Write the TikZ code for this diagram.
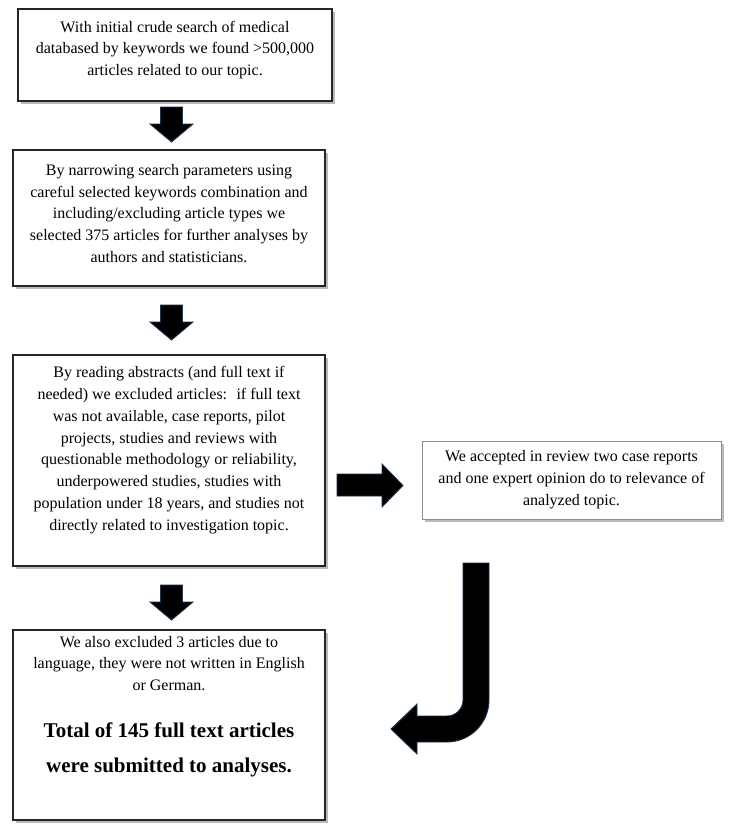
\documentclass[tikz,border=0pt]{standalone}
\usepackage{fontspec}
\setmainfont{Liberation Serif}
\begin{document}
\begin{tikzpicture}[x=1pt,y=-1pt]
\definecolor{arredge}{HTML}{1C3550}
\tikzset{
  frame/.style={draw=black!85, line width=1.3pt, fill=white, inner sep=0pt},
  shadowbox/.style={fill=gray!55, draw=none},
  txt/.style={inner sep=0pt, align=center, font=\fontsize{16}{21.8}\selectfont},
  bigtxt/.style={inner sep=0pt, align=center, font=\fontsize{21}{35}\selectfont\bfseries},
  blockarr/.style={fill=black, draw=arredge, line width=0.9pt, line join=miter},
  downarr/.pic={\path[blockarr] (-11,0) -- (11,0) -- (11,17) -- (21.5,17) -- (0,35) -- (-21.5,17) -- (-11,17) -- cycle;}
}
\useasboundingbox (0,0) rectangle (731,836);
\fill[white] (0,0) rectangle (731,836);

% shadows
\fill[shadowbox] (21,12) rectangle (335,104);
\fill[shadowbox] (16,153) rectangle (328,289);
\fill[shadowbox] (16,358) rectangle (328,569);
\fill[shadowbox] (16,633) rectangle (328,823);
\fill[shadowbox] (425,444) rectangle (724,522);

% boxes
\node[frame, minimum width=314pt, minimum height=92pt] (b1) at (175,55) {};
\node[frame, minimum width=312pt, minimum height=136pt] (b2) at (169,218) {};
\node[frame, minimum width=312pt, minimum height=211pt] (b3) at (169,460.5) {};
\node[frame, minimum width=312pt, minimum height=190pt] (b4) at (169,725) {};
\node[frame, draw=black!45, line width=1pt, minimum width=299pt, minimum height=78pt] (b5) at (571.5,480) {};

% texts
\node[txt] (t1) at (175,50) {With initial crude search of medical\\databased by keywords we found >500,000\\articles related to our topic.};
\node[txt] (t2) at (169,213.5) {By narrowing search parameters using\\careful selected keywords combination and\\including/excluding article types we\\selected 375 articles for further analyses by\\authors and statisticians.};
\node[txt] (t3) at (169,450) {By reading abstracts (and full text if\\needed) we excluded articles: \ if full text\\was not available, case reports, pilot\\projects, studies and reviews with\\questionable methodology or reliability,\\underpowered studies, studies with\\population under 18 years, and studies not\\directly related to investigation topic.};
\node[txt] (t4) at (169,663.5) {We also excluded 3 articles due to\\language, they were not written in English\\or German.};
\node[bigtxt] (t4b) at (169,749.5) {Total of 145 full text articles\\were submitted to analyses.};
\node[txt] (t5) at (571.5,479.5) {We accepted in review two case reports\\and one expert opinion do to relevance of\\analyzed topic.};

% down arrows
\pic at (171.5,107) {downarr};
\pic at (171.5,305) {downarr};
\pic at (171.5,585) {downarr};

% right arrow
\path[blockarr] (337,474) -- (382,474) -- (382,464) -- (403,485.5) -- (382,507) -- (382,496) -- (337,496) -- cycle;

% J arrow
\path[blockarr] (463,563) -- (489,563) -- (489,700) arc[start angle=0, end angle=90, radius=42]
  -- (417,742) -- (417,754) -- (391,729) -- (417,704) -- (417,716) -- (447,716)
  arc[start angle=90, end angle=0, radius=16] -- cycle;
\end{tikzpicture}
\end{document}
